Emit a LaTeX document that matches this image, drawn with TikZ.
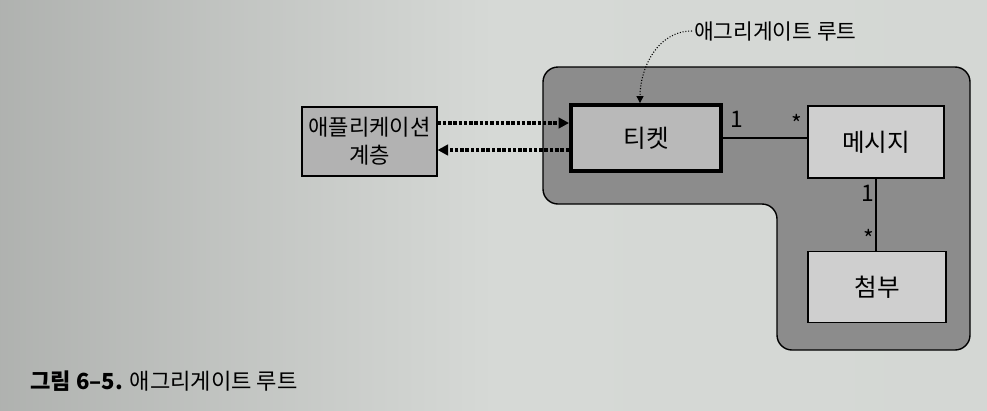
\documentclass[tikz,border=0pt]{standalone}
\usepackage{fontspec}
\setmainfont{Noto Sans CJK KR}
\usetikzlibrary{arrows.meta,positioning}

\begin{document}
\begin{tikzpicture}[x=0.02cm, y=-0.02cm]
\tikzstyle{entity}=[draw=black, line width=0.6pt, fill=gray!45, font=\fontsize{14}{16}\selectfont, inner sep=0pt];
\tikzstyle{multi}=[font=\fontsize{13}{14}\selectfont, inner sep=1pt];
\tikzstyle{access}=[densely dotted, line width=2pt, -{Triangle[length=6pt, width=6pt]}];
\tikzstyle{assoc}=[line width=0.8pt];
\definecolor{paper}{RGB}{214,217,214}
\definecolor{region}{RGB}{140,140,140}

% page
\path[left color=paper!82!black, right color=paper!105, middle color=paper] (0,0) rectangle (987,410);
\useasboundingbox (0,0) rectangle (987,410);

% aggregate
\draw[fill=region, line width=0.8pt, rounded corners=0.3cm]
  (543,67) -- (970,67) -- (970,350) -- (777,350) -- (777,204) -- (543,204) -- cycle;

\node[entity, fill=gray!55, line width=2.2pt, minimum width=150*0.02cm, minimum height=66*0.02cm] (ticket) at (646,138) {티켓};
\node[entity, fill=gray!38, minimum width=136*0.02cm, minimum height=72*0.02cm] (message) at (876,142) {메시지};
\node[entity, fill=gray!38, minimum width=138*0.02cm, minimum height=71*0.02cm] (attach) at (877,287) {첨부};

\node[entity, fill=gray!60, align=center, font=\fontsize{12.6}{16}\selectfont, minimum width=135*0.02cm, minimum height=69*0.02cm] (app) at (369.5,141.5) {애플리케이션\\계층};

\node[font=\fontsize{12.2}{14}\selectfont, anchor=west, inner sep=1pt] (root) at (692,31) {애그리게이트 루트};

\node[anchor=west, inner sep=0pt, font=\fontsize{12.6}{14}\selectfont] (caption) at (30,381) {\textbf{그림 6–5.} 애그리게이트 루트};

% associations
\draw[assoc] (ticket.east) -- (ticket.east -| message.west);
\draw[assoc] (message.south) -- (message.south |- attach.north);
\node[multi] (m1) at (737,119) {1};
\node[multi] (m2) at (797,123) {*};
\node[multi] (m3) at (868,193) {1};
\node[multi] (m4) at (869,238) {*};

% access from application layer
\draw[access] ([yshift=0.37cm]app.east) -- ([yshift=0.37cm]app.east -| ticket.west);
\draw[access] ([yshift=-0.17cm]app.east -| ticket.west) -- ([yshift=-0.17cm]app.east);

\draw[densely dotted, line width=0.6pt, -{Triangle[length=4pt, width=4pt]}] (root.west) to[out=180, in=90] ([xshift=-0.12cm]ticket.north);
\end{tikzpicture}
\end{document}
